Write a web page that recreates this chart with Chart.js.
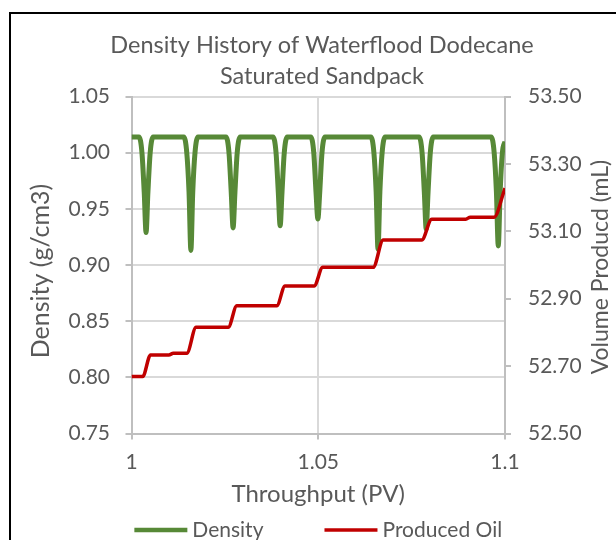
<!DOCTYPE html>
<html><head><meta charset="utf-8">
<script src="https://cdn.jsdelivr.net/npm/chart.js@4.4.1/dist/chart.umd.min.js"></script>
<style>
html,body{margin:0;padding:0;background:#fff;overflow:hidden;}
#wrap{position:relative;width:616px;height:540px;overflow:hidden;}
#frame{position:absolute;left:9px;top:12px;width:700px;height:700px;border-left:2px solid #000;border-top:2px solid #000;box-sizing:border-box;pointer-events:none;}
canvas{position:absolute;left:0;top:0;}
</style></head><body>
<div id="wrap"><canvas id="c" width="616" height="540"></canvas><div id="frame"></div></div>
<script>
// ---- data ----
const titleLines = ['Density History of Waterflood Dodecane', 'Saturated Sandpack'];
const seriesNames = ['Density', 'Produced Oil'];
const xAxisTitle = 'Throughput (PV)';
const leftAxisTitle = 'Density (g/cm3)';
const rightAxisTitle = 'Volume Producd (mL)';
const xTickLabels = ['1', '1.05', '1.1'];
const leftTickLabels = ['0.75', '0.80', '0.85', '0.90', '0.95', '1.00', '1.05'];
const rightTickLabels = ['52.50', '52.70', '52.90', '53.10', '53.30', '53.50'];

const densityThroughput = [
  1.0000,
  1.0020, 1.0028, 1.0034, 1.0039, 1.0044, 1.0050, 1.0058,
  1.0140, 1.0148, 1.0154, 1.0159, 1.0164, 1.0170, 1.0178,
  1.0253, 1.0261, 1.0267, 1.0272, 1.0277, 1.0283, 1.0291,
  1.0379, 1.0387, 1.0393, 1.0398, 1.0403, 1.0409, 1.0417,
  1.0480, 1.0488, 1.0494, 1.0499, 1.0504, 1.0510, 1.0518,
  1.0641, 1.0649, 1.0655, 1.0660, 1.0665, 1.0671, 1.0679,
  1.0770, 1.0778, 1.0784, 1.0789, 1.0794, 1.0800, 1.0808,
  1.0963, 1.0971, 1.0977, 1.0982, 1.0987, 1.0993, 1.1000
];
const densityValues = [
  1.014,
  1.014, 1.000, 0.965, 0.929, 0.965, 1.000, 1.014,
  1.014, 1.000, 0.965, 0.913, 0.965, 1.000, 1.014,
  1.014, 1.000, 0.965, 0.933, 0.965, 1.000, 1.014,
  1.014, 1.000, 0.965, 0.935, 0.965, 1.000, 1.014,
  1.014, 1.000, 0.965, 0.941, 0.965, 1.000, 1.014,
  1.014, 1.000, 0.965, 0.914, 0.965, 1.000, 1.014,
  1.014, 1.000, 0.965, 0.932, 0.965, 1.000, 1.014,
  1.014, 1.000, 0.965, 0.917, 0.965, 1.000, 1.010
];

const oilThroughput = [
  1.0000, 1.0030, 1.0051, 1.0100, 1.0112, 1.0148, 1.0173, 1.0259, 1.0282,
  1.0389, 1.0411, 1.0489, 1.0512, 1.0647, 1.0674, 1.0777, 1.0804,
  1.0895, 1.0907, 1.0971, 1.0997, 1.1000
];
const oilValues = [
  52.669, 52.669, 52.733, 52.733, 52.738, 52.738, 52.815, 52.815, 52.879,
  52.879, 52.938, 52.938, 52.993, 52.993, 53.074, 53.074, 53.136,
  53.136, 53.142, 53.142, 53.218, 53.228
];

// ---- chart ----
const TEXT = '#595959';
const FONT = 'Lato';
Chart.defaults.font.family = FONT;
Chart.defaults.color = TEXT;

const toPoints = (xs, ys) => xs.map((x, i) => ({x: x, y: ys[i]}));

function drawVerticalTitle(ctx, text, size, x, y) {
  ctx.save();
  ctx.font = size + 'px ' + FONT;
  ctx.fillStyle = TEXT;
  ctx.textAlign = 'center';
  ctx.textBaseline = 'middle';
  ctx.translate(x, y);
  ctx.rotate(-Math.PI / 2);
  ctx.fillText(text, 0, 0);
  ctx.restore();
}

const axisTitlePlugin = {
  id: 'verticalAxisTitles',
  afterDraw(chart) {
    const ca = chart.chartArea, ctx = chart.ctx;
    const mid = (ca.top + ca.bottom) / 2;
    drawVerticalTitle(ctx, leftAxisTitle, 25, ca.left - 90.5, mid + 6);
    drawVerticalTitle(ctx, rightAxisTitle, 23, chart.scales.y1.right - 15, mid + 2);
  }
};

const legendPlugin = {
  id: 'bottomLegend',
  afterDraw(chart) {
    const ca = chart.chartArea, ctx = chart.ctx;
    ctx.save();
    ctx.font = '21px ' + FONT;
    const sample = 53, gapText = 5, gapItem = 61;
    const items = chart.data.datasets.map(ds => ({
      text: ds.label, color: ds.borderColor, lw: ds.legendWidth, w: ctx.measureText(ds.label).width
    }));
    const total = items.reduce((s, it) => s + sample + gapText + it.w, 0) + gapItem * (items.length - 1);
    let x = (ca.left + ca.right) / 2 - total / 2;
    const y = chart.scales.x.bottom + 16.5;
    ctx.textBaseline = 'middle';
    ctx.textAlign = 'left';
    items.forEach(it => {
      ctx.strokeStyle = it.color;
      ctx.lineWidth = it.lw;
      ctx.beginPath();
      ctx.moveTo(x, y);
      ctx.lineTo(x + sample, y);
      ctx.stroke();
      ctx.fillStyle = TEXT;
      ctx.fillText(it.text, x + sample + gapText, y);
      x += sample + gapText + it.w + gapItem;
    });
    ctx.restore();
  }
};

new Chart(document.getElementById('c'), {
  type: 'line',
  data: {
    datasets: [
      {
        label: seriesNames[0],
        data: toPoints(densityThroughput, densityValues),
        yAxisID: 'y',
        borderColor: '#578937',
        backgroundColor: '#578937',
        borderWidth: 5,
        legendWidth: 4.5,
        pointRadius: 0,
        cubicInterpolationMode: 'monotone',
        order: 2
      },
      {
        label: seriesNames[1],
        data: toPoints(oilThroughput, oilValues),
        yAxisID: 'y1',
        borderColor: '#C00000',
        backgroundColor: '#C00000',
        borderWidth: 3.5,
        legendWidth: 3.5,
        pointRadius: 0,
        cubicInterpolationMode: 'monotone',
        order: 1
      }
    ]
  },
  options: {
    responsive: false,
    animation: false,
    devicePixelRatio: 1,
    layout: {padding: {left: 28, right: 0, top: 0, bottom: 26.5}},
    plugins: {
      legend: {display: false},
      tooltip: {enabled: false},
      title: {
        display: true,
        text: titleLines,
        color: TEXT,
        font: {size: 23.5, weight: 'normal', lineHeight: 1.345},
        padding: {top: 29.2, bottom: 4.1}
      }
    },
    scales: {
      x: {
        type: 'linear',
        min: 1, max: 1.1,
        ticks: {stepSize: 0.05, padding: 10, color: TEXT, font: {size: 21}, maxRotation: 0, autoSkip: false,
          callback: (v, i) => xTickLabels[i]},
        grid: {color: '#D9D9D9', lineWidth: 2, tickColor: '#BFBFBF', tickLength: 6},
        border: {color: '#BFBFBF', width: 2},
        title: {display: true, text: xAxisTitle, color: TEXT, font: {size: 24, lineHeight: 1}, padding: {top: 0, bottom: 7}},
        afterFit(s) { s.height = 80; }
      },
      y: {
        position: 'left',
        min: 0.75, max: 1.05,
        ticks: {stepSize: 0.05, padding: 15.5, color: TEXT, font: {size: 21},
          callback: (v, i) => leftTickLabels[i]},
        grid: {color: '#D9D9D9', lineWidth: 2, tickColor: '#BFBFBF', tickLength: 6},
        border: {color: '#BFBFBF', width: 2},
        afterFit(s) { s.width = 103.5; }
      },
      y1: {
        position: 'right',
        min: 52.5, max: 53.5,
        ticks: {stepSize: 0.2, padding: 17, color: TEXT, font: {size: 21},
          callback: (v, i) => rightTickLabels[i]},
        grid: {drawOnChartArea: false, tickColor: '#BFBFBF', tickLength: 6, lineWidth: 2},
        border: {color: '#BFBFBF', width: 2},
        afterFit(s) { s.width = 111; }
      }
    }
  },
  plugins: [axisTitlePlugin, legendPlugin]
});
</script>
</body></html>
